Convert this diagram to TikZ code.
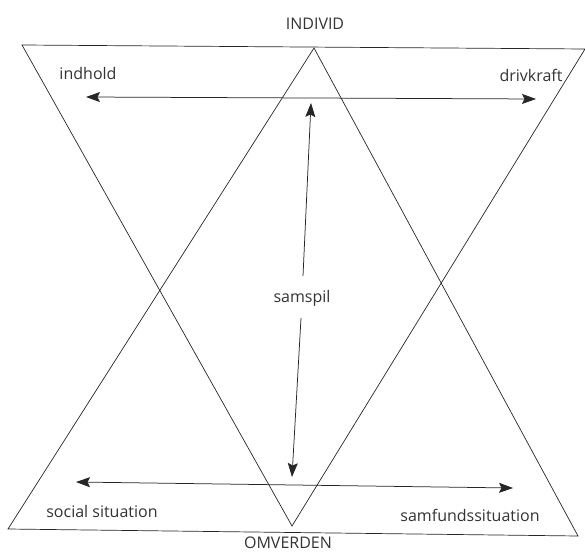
\documentclass[tikz,border=0pt]{standalone}
\usepackage{fontspec}
\setmainfont{Open Sans}
\usetikzlibrary{arrows.meta}
\begin{document}
\begin{tikzpicture}[x=1pt,y=-1pt,
  edge/.style={line width=0.7pt, black!85},
  tip/.tip={Stealth[length=14pt,width=10pt,inset=2.5pt]},
  arr/.style={line width=0.75pt, black!85, tip-tip},
  arrone/.style={line width=0.75pt, black!85, -tip},
  lbl/.style={font=\fontsize{16}{19}\selectfont, inner sep=0pt, text=black!80}]
\useasboundingbox (0,0) rectangle (585,553);
% inverted triangle
\coordinate (itl) at (22,45);
\coordinate (itr) at (585,49);
\coordinate (ib) at (292,526);
% upright triangle
\coordinate (ut) at (314,48);
\coordinate (ubl) at (8,529);
\coordinate (ubr) at (578,536);
\draw[edge] (itl) -- (itr) -- (ib) -- cycle;
\draw[edge] (ut) -- (ubl) -- (ubr) -- cycle;
% labels
\node[lbl] (individ) at (315,24) {INDIVID};
\node[lbl] (omverden) at (288,543) {OMVERDEN};
\node[lbl] (indhold) at (88,74) {indhold};
\node[lbl] (drivkraft) at (531,75) {drivkraft};
\node[lbl] (samspil) at (302,298) {samspil};
\node[lbl] (social) at (102,511) {social situation};
\node[lbl] (samfund) at (470,515) {samfundssituation};
% arrows
\coordinate (a1) at (86,97);
\coordinate (a2) at (536,99);
\draw[arr] (a1) -- (a2);
\coordinate (b1) at (76,482);
\coordinate (b2) at (513,488);
\draw[arr] (b1) -- (b2);
\coordinate (v1) at (311,103);
\coordinate (v2) at (292,477);
\coordinate (s1) at (303,276);
\coordinate (s2) at (301,318);
\draw[arrone] (s1) -- (v1);
\draw[arrone] (s2) -- (v2);
\end{tikzpicture}
\end{document}
